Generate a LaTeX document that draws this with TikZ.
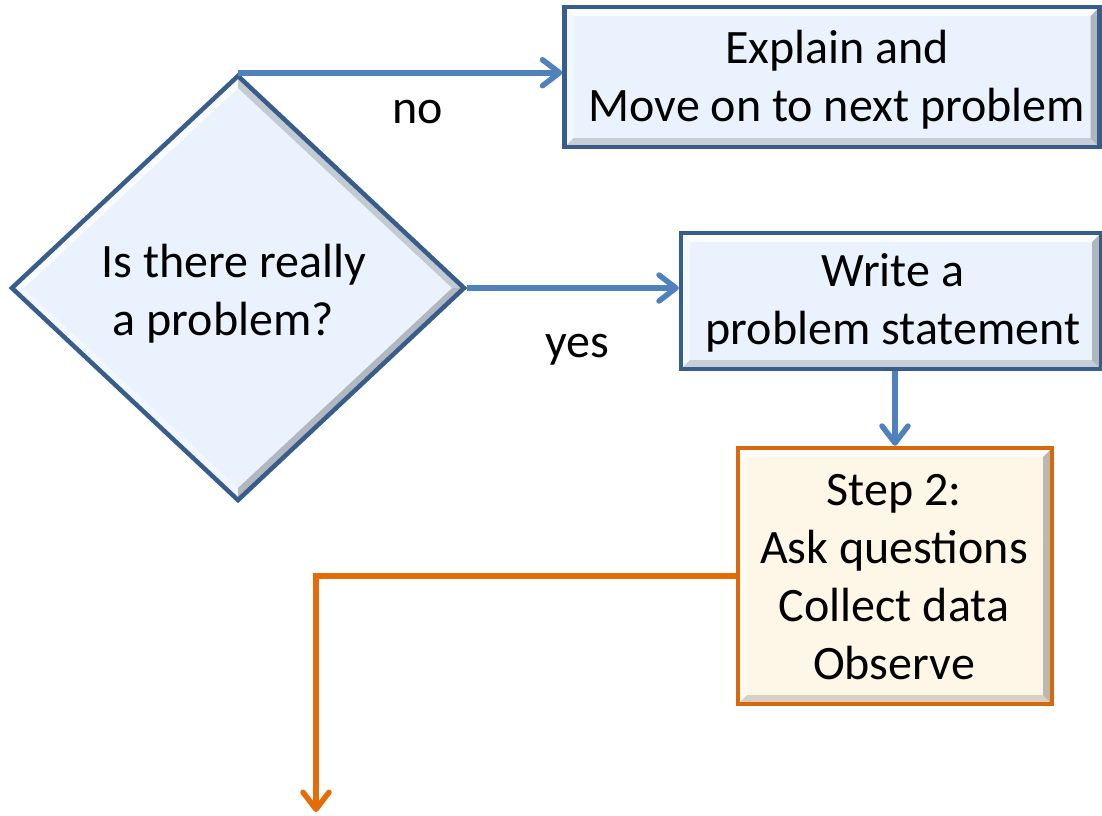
\documentclass[tikz,border=0pt]{standalone}
\usepackage{fontspec}
\setmainfont{Carlito}
\usetikzlibrary{arrows.meta,shapes.geometric}
\definecolor{bfill}{HTML}{EAF3FD}
\definecolor{bdraw}{HTML}{385D8A}
\definecolor{arrowblue}{HTML}{4F81BD}
\definecolor{ofill}{HTML}{FEF6E6}
\definecolor{odraw}{HTML}{D8680C}
\definecolor{oline}{HTML}{E46C0A}
\begin{document}
\begin{tikzpicture}[x=1pt,y=-1pt,
  txt/.style={font=\fontsize{48}{58}\selectfont, align=center, text=black},
  rbevel/.style={path picture={
    \fill[white,opacity=0.75] (path picture bounding box.north west) -- (path picture bounding box.north east)
      -- ([xshift=-9pt,yshift=-9pt]path picture bounding box.north east) -- ([xshift=9pt,yshift=-9pt]path picture bounding box.north west) -- cycle;
    \fill[white,opacity=0.45] (path picture bounding box.north west) -- ([xshift=9pt,yshift=-9pt]path picture bounding box.north west)
      -- ([xshift=9pt,yshift=9pt]path picture bounding box.south west) -- (path picture bounding box.south west) -- cycle;
    \fill[black,opacity=0.15] (path picture bounding box.south west) -- ([xshift=9pt,yshift=9pt]path picture bounding box.south west)
      -- ([xshift=-9pt,yshift=9pt]path picture bounding box.south east) -- (path picture bounding box.south east) -- cycle;
    \fill[black,opacity=0.25] (path picture bounding box.north east) -- ([xshift=-9pt,yshift=-9pt]path picture bounding box.north east)
      -- ([xshift=-9pt,yshift=9pt]path picture bounding box.south east) -- (path picture bounding box.south east) -- cycle;
  }},
  dbevel/.style={path picture={
    \fill[white,opacity=0.75] (path picture bounding box.west) -- (path picture bounding box.north)
      -- ([yshift=-12pt]path picture bounding box.north) -- ([xshift=12pt]path picture bounding box.west) -- cycle;
    \fill[white,opacity=0.35] (path picture bounding box.west) -- ([xshift=12pt]path picture bounding box.west)
      -- ([yshift=12pt]path picture bounding box.south) -- (path picture bounding box.south) -- cycle;
    \fill[black,opacity=0.17] (path picture bounding box.north) -- ([yshift=-12pt]path picture bounding box.north)
      -- ([xshift=-12pt]path picture bounding box.east) -- (path picture bounding box.east) -- cycle;
    \fill[black,opacity=0.24] (path picture bounding box.east) -- ([xshift=-12pt]path picture bounding box.east)
      -- ([yshift=12pt]path picture bounding box.south) -- (path picture bounding box.south) -- cycle;
  }},
  bluebox/.style={rectangle, draw=bdraw, fill=bfill, line width=4.5pt, inner sep=0pt, txt, rbevel},
  orangebox/.style={rectangle, draw=odraw, fill=ofill, line width=4.5pt, inner sep=0pt, txt, rbevel},
  decision/.style={diamond, draw=bdraw, fill=bfill, line width=4.5pt, inner sep=0pt, txt, dbevel},
  lbl/.style={txt},
  barrow/.style={draw=arrowblue, line width=5.5pt, -{Straight Barb[length=17pt,width=26pt,line cap=round,round]}},
  oarrow/.style={draw=oline, line width=5.5pt, -{Straight Barb[length=17pt,width=26pt,line cap=round,round]}}
]
\useasboundingbox (0,0) rectangle (1102,815);

\node[decision, minimum width=454pt, minimum height=426pt] (q) at (238,288) {};
\node[txt] (qtext) at (234,294) {Is there really\\a problem?\hspace*{0.45em}};
\node[bluebox, minimum width=535pt, minimum height=140pt, text depth=0pt] (explain) at (832,77) {};
\node[txt] (explaintext) at (837,80) {Explain and\\Move on to next problem};
\node[bluebox, minimum width=420pt, minimum height=136pt] (write) at (891,301) {};
\node[txt] (writetext) at (893,303) {Write a\\problem statement};
\node[orangebox, minimum width=314pt, minimum height=256pt] (step) at (895,576) {};
\node[txt] (steptext) at (894,577) {Step 2:\\Ask questions\\Collect data\\Observe};

\node[lbl] (no) at (418,112) {no};
\node[lbl] (yes) at (577,350) {yes};

\coordinate (oend) at (316,812);

\draw[barrow] (q.north) -- (q.north -| explain.west);
\draw[barrow] (q.east) -- (q.east -| write.west);
\draw[barrow] (step.north |- write.south) -- (step.north);
\draw[oarrow] (step.west) -| (oend);
\end{tikzpicture}
\end{document}
